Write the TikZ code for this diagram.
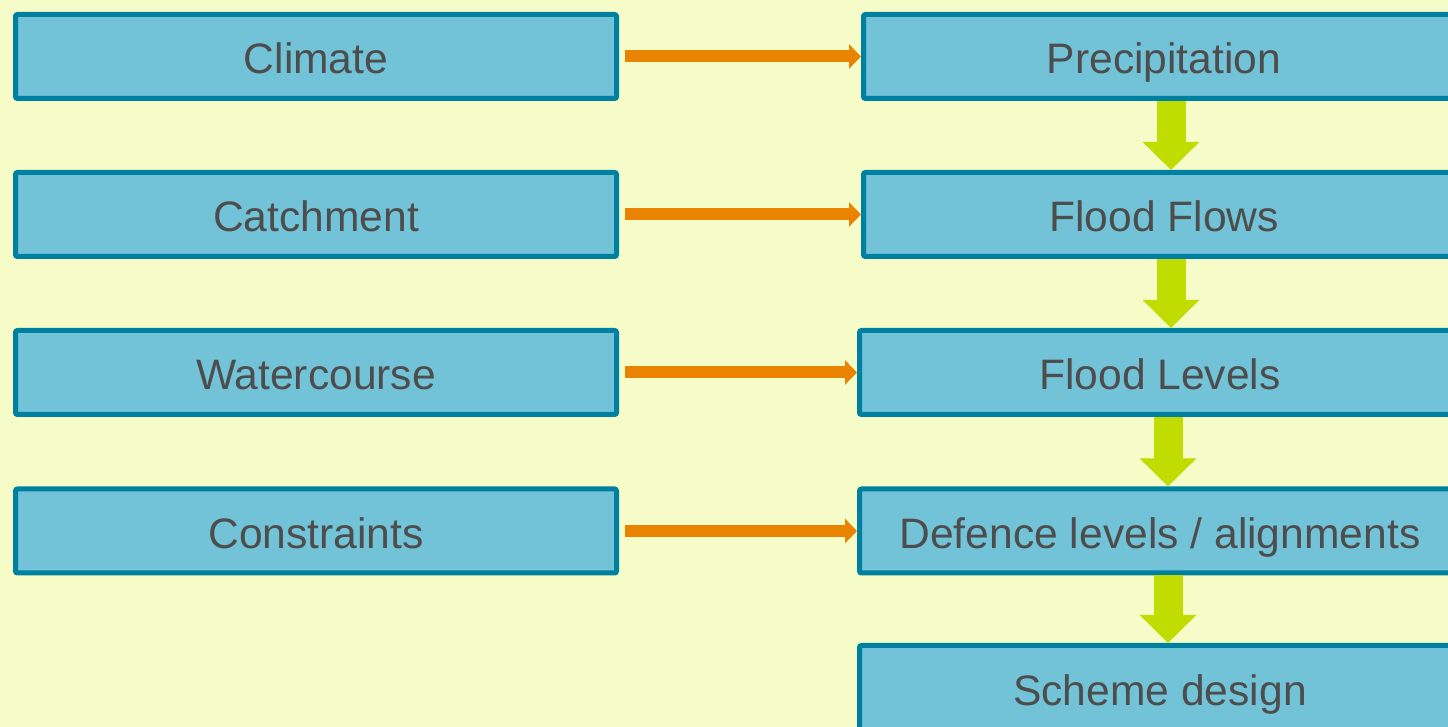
\documentclass[tikz,border=0pt]{standalone}
\usepackage{fontspec}
\setmainfont{Liberation Sans}
\usetikzlibrary{arrows.meta}
\definecolor{bgyellow}{HTML}{F5FCC8}
\definecolor{boxfill}{HTML}{72C3D8}
\definecolor{boxline}{HTML}{0080A0}
\definecolor{textgray}{HTML}{4D4D4D}
\definecolor{feedorange}{HTML}{E98300}
\definecolor{flowgreen}{HTML}{C0DC00}
\begin{document}
\begin{tikzpicture}[x=0.5pt,y=-0.5pt,
    box/.style={draw=boxline,fill=boxfill,line width=2.5pt,rounded corners=1pt,
        minimum width=300.5pt,minimum height=42pt,inner sep=0pt,
        text height=17.5pt,text depth=0pt,
        text=textgray,font=\fontsize{21.3}{25}\selectfont},
    feed/.style={draw=feedorange,line width=6pt,shorten <=3pt,
        -{Triangle[width=12pt,length=6pt]}},
    flow/.style={draw=flowgreen,line width=14.5pt,
        -{Triangle[width=27.5pt,length=14pt]}}]
    \clip (0,0) rectangle (1448,727);
    \fill[bgyellow] (0,0) rectangle (1448,727);
    % inputs
    \node[box] (climate) at (316,56.5) {Climate};
    \node[box] (catchment) at (316,214.5) {Catchment};
    \node[box] (watercourse) at (316,372.5) {Watercourse};
    \node[box] (constraints) at (316,531) {Constraints};
    % main chain
    \node[box] (precip) at (1164,56.5) {Precipitation};
    \node[box] (flows) at (1164,214.5) {Flood Flows};
    \node[box] (levels) at (1160,372.5) {Flood Levels};
    \node[box] (defence) at (1160,531) {Defence levels / alignments};
    \node[box] (scheme) at (1160,687.5) {Scheme design};
    \draw[feed] (climate) -- (precip);
    \draw[feed] (catchment) -- (flows);
    \draw[feed] (watercourse) -- (levels);
    \draw[feed] (constraints) -- (defence);
    \draw[flow] ([xshift=3.5pt]precip.south) -- ([xshift=3.5pt]flows.north);
    \draw[flow] ([xshift=3.5pt]flows.south) -- ([xshift=3.5pt]flows.south |- levels.north);
    \draw[flow] ([xshift=4pt]levels.south) -- ([xshift=4pt]defence.north);
    \draw[flow] ([xshift=4pt]defence.south) -- ([xshift=4pt]scheme.north);
\end{tikzpicture}
\end{document}
